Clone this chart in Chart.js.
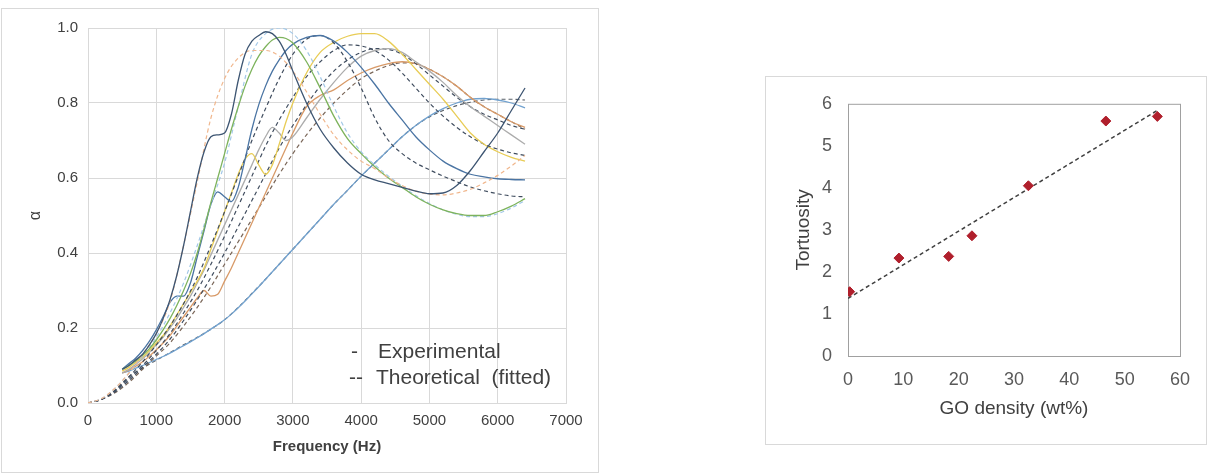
<!DOCTYPE html>
<html>
<head>
<meta charset="utf-8">
<script src="https://cdn.jsdelivr.net/npm/chart.js@4.4.1/dist/chart.umd.min.js"></script>
<style>
  body { margin: 0; background: #fff; width: 1211px; height: 475px; position: relative; overflow: hidden; }
  .panel { position: absolute; border: 1px solid #d9d9d9; background: #fff; }
  #leftPanel { left: 1px; top: 8px; width: 596px; height: 463px; }
  #rightPanel { left: 765px; top: 76px; width: 440px; height: 367px; }
  canvas { display: block; }
</style>
</head>
<body>
<div class="panel" id="leftPanel"><canvas id="alphaChart" width="596" height="463"></canvas></div>
<div class="panel" id="rightPanel"><canvas id="tortChart" width="440" height="367"></canvas></div>
<script>
// ============ DATA: absorption coefficient ============
const freqExp = [500,600,700,800,900,1000,1100,1200,1300,1400,1500,1600,1700,1800,1900,2000,2100,2200,2300,2400,2500,2600,2700,2800,2900,3000,
  3200,3400,3600,3800,4000,4200,4400,4600,4800,5000,5200,5400,5600,5800,6000,6200,6400];
const freqFit = [0,200,400,600,800,1000,1200,1400,1600,1800,2000,2200,2400,2600,2800,3000,3200,3400,3600,3800,4000,4200,4400,4600,4800,5000,5200,5400,5600,5800,6000,6200,6400];

// experimental (solid)
const exp1 = [0.09,0.10,0.115,0.13,0.155,0.185,0.225,0.275,0.34,0.42,0.51,0.60,0.67,0.71,0.715,0.72,0.77,0.86,0.93,0.965,0.98,0.99,0.985,0.965,0.93,0.885,
  0.80,0.73,0.68,0.64,0.61,0.595,0.585,0.575,0.565,0.558,0.56,0.58,0.62,0.67,0.72,0.78,0.84];
const exp2 = [0.09,0.10,0.112,0.127,0.145,0.168,0.195,0.225,0.26,0.30,0.345,0.40,0.465,0.535,0.60,0.665,0.73,0.79,0.845,0.89,0.925,0.95,0.968,0.975,0.972,0.96,
  0.91,0.84,0.765,0.705,0.665,0.63,0.60,0.575,0.55,0.53,0.515,0.505,0.50,0.50,0.51,0.525,0.545];
const exp3 = [0.09,0.105,0.12,0.14,0.165,0.195,0.23,0.268,0.285,0.285,0.32,0.39,0.46,0.53,0.563,0.55,0.537,0.575,0.65,0.73,0.795,0.845,0.885,0.915,0.94,0.957,
  0.975,0.98,0.965,0.935,0.895,0.85,0.80,0.755,0.71,0.675,0.645,0.625,0.61,0.603,0.598,0.596,0.595];
const exp4 = [0.085,0.095,0.108,0.122,0.14,0.16,0.18,0.205,0.235,0.265,0.295,0.325,0.36,0.41,0.46,0.51,0.56,0.61,0.65,0.665,0.635,0.61,0.635,0.69,0.75,0.80,
  0.88,0.935,0.962,0.978,0.985,0.985,0.965,0.93,0.89,0.85,0.81,0.765,0.72,0.69,0.67,0.655,0.645];
const exp5 = [0.08,0.09,0.103,0.118,0.135,0.155,0.175,0.20,0.225,0.255,0.285,0.32,0.355,0.395,0.435,0.475,0.515,0.555,0.595,0.635,0.675,0.71,0.735,0.72,0.70,0.71,
  0.76,0.81,0.855,0.895,0.925,0.94,0.945,0.935,0.91,0.885,0.855,0.82,0.79,0.765,0.74,0.715,0.69];
const exp6 = [0.08,0.088,0.098,0.11,0.125,0.142,0.16,0.18,0.205,0.23,0.255,0.28,0.30,0.285,0.29,0.325,0.36,0.40,0.44,0.48,0.52,0.56,0.60,0.64,0.68,0.72,
  0.79,0.82,0.835,0.86,0.88,0.895,0.905,0.91,0.905,0.89,0.87,0.845,0.815,0.79,0.77,0.75,0.735];
const exp7 = [0.08,0.085,0.093,0.10,0.108,0.116,0.124,0.133,0.143,0.153,0.163,0.174,0.185,0.197,0.209,0.222,0.237,0.254,0.272,0.291,0.31,0.33,0.35,0.37,0.39,0.41,
  0.45,0.49,0.53,0.567,0.605,0.64,0.675,0.71,0.74,0.765,0.785,0.80,0.81,0.812,0.808,0.80,0.787];

// theoretical fitted (dashed)
const fit1 = [0,0.012,0.04,0.08,0.13,0.185,0.27,0.42,0.59,0.76,0.865,0.92,0.94,0.94,0.925,0.885,0.83,0.77,0.715,0.675,0.645,0.625,0.60,0.58,0.565,0.557,0.555,0.56,0.57,0.587,0.607,0.632,0.66];
const fit2 = [0,0.012,0.04,0.08,0.125,0.175,0.24,0.32,0.42,0.53,0.64,0.79,0.93,0.985,1.0,0.985,0.94,0.87,0.79,0.72,0.67,0.635,0.605,0.578,0.553,0.532,0.515,0.503,0.497,0.497,0.505,0.52,0.54];
const fit3 = [0,0.01,0.035,0.07,0.11,0.155,0.205,0.265,0.335,0.42,0.51,0.605,0.70,0.785,0.865,0.93,0.97,0.98,0.96,0.91,0.84,0.76,0.70,0.665,0.64,0.622,0.605,0.59,0.576,0.566,0.558,0.552,0.55];
const fit4 = [0,0.01,0.033,0.065,0.10,0.14,0.185,0.24,0.30,0.37,0.445,0.525,0.605,0.685,0.755,0.815,0.87,0.91,0.94,0.955,0.952,0.94,0.915,0.88,0.84,0.80,0.765,0.735,0.71,0.69,0.677,0.667,0.66];
const fit5 = [0,0.01,0.03,0.06,0.095,0.13,0.17,0.22,0.275,0.335,0.40,0.47,0.54,0.61,0.68,0.74,0.795,0.845,0.885,0.915,0.935,0.945,0.943,0.93,0.905,0.875,0.845,0.815,0.79,0.77,0.755,0.74,0.73];
const fit6 = [0,0.01,0.028,0.055,0.09,0.125,0.16,0.205,0.255,0.31,0.37,0.43,0.49,0.55,0.61,0.665,0.715,0.76,0.80,0.835,0.865,0.885,0.90,0.907,0.905,0.89,0.87,0.845,0.815,0.79,0.77,0.75,0.73];
const fit7 = [0,0.01,0.035,0.07,0.093,0.114,0.134,0.155,0.175,0.197,0.222,0.255,0.292,0.33,0.37,0.41,0.45,0.49,0.53,0.567,0.605,0.64,0.675,0.71,0.74,0.763,0.78,0.793,0.802,0.808,0.81,0.81,0.808];

const expColors = ["#3d5572", "#7db35c", "#4a74a3", "#e8cc55", "#acacac", "#d89a68", "#72a2cf"];
const fitColors = ["#f0b68c", "#a2c8e8", "#3f4c5e", "#3f4c5e", "#3f4c5e", "#7a6658", "#5a6169"];

// ============ DATA: tortuosity ============
const goDensity = [0.3, 9.2, 18.2, 22.4, 32.6, 46.6, 55.9];
const tortuosity = [1.53, 2.33, 2.37, 2.86, 4.05, 5.59, 5.70];
const trendX = [0, 56];
const trendY = [1.37, 5.85];

Chart.defaults.font.family = '"Liberation Sans", Arial, sans-serif';
Chart.defaults.color = "#595959";

const toPoints = (xs, ys) => xs.map((x, i) => ({ x, y: ys[i] }));

// ============ LEFT CHART ============
const expSeries = [exp1, exp2, exp3, exp4, exp5, exp6, exp7];
const fitSeries = [fit1, fit2, fit3, fit4, fit5, fit6, fit7];
const alphaSets = [];
expSeries.forEach((ys, i) => {
  alphaSets.push({
    data: toPoints(freqExp, ys),
    borderColor: expColors[i],
    borderWidth: 1.3,
    pointRadius: 0,
    cubicInterpolationMode: "monotone"
  });
  alphaSets.push({
    data: toPoints(freqFit, fitSeries[i]),
    borderColor: fitColors[i],
    borderWidth: 1.2,
    borderDash: [4, 3],
    pointRadius: 0,
    cubicInterpolationMode: "monotone"
  });
});

const legendText = {
  id: "legendText",
  afterDraw(chart) {
    const ctx = chart.ctx;
    ctx.save();
    ctx.fillStyle = "#404040";
    ctx.font = '21px "Liberation Sans", Arial, sans-serif';
    ctx.textBaseline = "middle";
    ctx.fillText("-", 349, 343);
    ctx.fillText("Experimental", 376, 343);
    ctx.fillText("--", 347, 369);
    ctx.fillText("Theoretical  (fitted)", 374, 369);
    ctx.restore();
  }
};

new Chart(document.getElementById("alphaChart"), {
  type: "line",
  data: { datasets: alphaSets },
  options: {
    responsive: false,
    animation: false,
    devicePixelRatio: 1,
    layout: { padding: { top: 13, right: 32, left: 0, bottom: 0 } },
    plugins: { legend: { display: false }, tooltip: { enabled: false } },
    scales: {
      x: {
        type: "linear",
        min: 0,
        max: 7000,
        ticks: { stepSize: 1000, padding: 9, font: { size: 15 }, color: "#404040", maxRotation: 0, callback: (v) => String(v) },
        grid: { color: "#d9d9d9", drawTicks: false },
        border: { color: "#d9d9d9" },
        title: { display: true, text: "Frequency (Hz)", font: { size: 15, weight: "bold" }, color: "#404040", padding: { top: 0, bottom: 16 } },
        afterFit: (s) => { s.height = 69; }
      },
      y: {
        min: 0,
        max: 1,
        ticks: { stepSize: 0.2, padding: 10, font: { size: 15 }, color: "#404040", callback: (v) => v.toFixed(1) },
        grid: { color: "#d9d9d9", drawTicks: false },
        border: { display: false },
        title: { display: true, text: "α", font: { size: 16 }, color: "#404040", padding: { top: 24, bottom: 0 } },
        afterFit: (s) => { s.width = 86; }
      }
    }
  },
  plugins: [legendText]
});

// ============ RIGHT CHART ============
const frame = {
  id: "frame",
  beforeDatasetsDraw(chart) {
    const { ctx, chartArea: a } = chart;
    ctx.save();
    ctx.strokeStyle = "#a0a0a0";
    ctx.lineWidth = 1;
    ctx.strokeRect(a.left + 0.5, a.top + 0.5, a.right - a.left, a.bottom - a.top);
    ctx.restore();
  }
};

new Chart(document.getElementById("tortChart"), {
  type: "scatter",
  data: {
    datasets: [
      {
        data: toPoints(goDensity, tortuosity),
        pointStyle: "rectRot",
        pointRadius: 5,
        backgroundColor: "#b01f2c",
        borderColor: "#b01f2c",
        order: 0
      },
      {
        type: "line",
        data: toPoints(trendX, trendY),
        borderColor: "#404040",
        borderWidth: 1.5,
        borderDash: [4, 3],
        pointRadius: 0,
        order: 1
      }
    ]
  },
  options: {
    responsive: false,
    animation: false,
    devicePixelRatio: 1,
    layout: { padding: { top: 22, right: 26, left: 0, bottom: 0 } },
    plugins: { legend: { display: false }, tooltip: { enabled: false } },
    scales: {
      x: {
        min: 0,
        max: 60,
        ticks: { stepSize: 10, padding: 13, font: { size: 18 }, color: "#595959" },
        grid: { display: false, drawTicks: false },
        border: { display: false },
        title: { display: true, text: "GO density (wt%)", font: { size: 19 }, color: "#404040", padding: { top: 0, bottom: 24 } },
        afterFit: (s) => { s.height = 88; }
      },
      y: {
        min: 0,
        max: 6,
        ticks: { stepSize: 1, padding: 16, font: { size: 18 }, color: "#595959" },
        grid: { display: false, drawTicks: false },
        border: { display: false },
        title: { display: true, text: "Tortuosity", font: { size: 19 }, color: "#404040", padding: { top: 26, bottom: 0 } },
        afterFit: (s) => { s.width = 82; }
      }
    }
  },
  plugins: [frame]
});
</script>
</body>
</html>
